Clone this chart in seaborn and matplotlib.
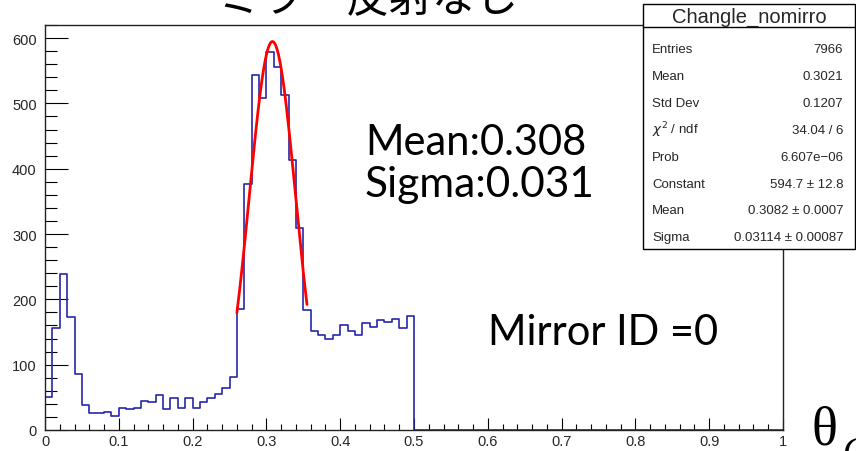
import numpy as np
import pandas as pd
import matplotlib
matplotlib.use("Agg")
import matplotlib.pyplot as plt
from matplotlib.patches import Rectangle
from matplotlib.lines import Line2D
import seaborn as sns

# ---- data (bin contents, 0.01-wide bins starting at 0) ----
bin_width = 0.01
counts = [51, 156, 239, 173, 85, 38, 26, 26, 28, 22,
          34, 32, 34, 45, 43, 53, 32, 49, 34, 49,
          34, 43, 49, 55, 64, 81, 186, 377, 543, 508,
          578, 556, 513, 414, 309, 184, 152, 146, 140, 146,
          160, 151, 146, 164, 158, 169, 165, 170, 156, 175]
hist_range = (0.0, 1.0)
n_bins = 100

# Gaussian fit parameters (from stats box)
fit_const = 594.7
fit_mean = 0.3082
fit_sigma = 0.03114
fit_range = (0.26, 0.355)

title = "ミラー反射なし"
stats_name = "Changle_nomirro"
stats_labels = ["Entries", "Mean", "Std Dev", r"$\chi^{2}$ / ndf", "Prob",
                "Constant", "Mean", "Sigma"]
stats_values = ["7966", "0.3021", "0.1207", "34.04 / 6", "6.607e\u221206",
                "594.7 \u00b1 12.8", "0.3082 \u00b1 0.0007", "0.03114 \u00b1 0.00087"]
y_ticks = [0, 100, 200, 300, 400, 500, 600]
x_ticks = [0, 0.1, 0.2, 0.3, 0.4, 0.5, 0.6, 0.7, 0.8, 0.9, 1]
x_ticklabels = ["0", "0.1", "0.2", "0.3", "0.4", "0.5", "0.6", "0.7", "0.8", "0.9", "1"]

# ---- figure ----
sns.set_style("ticks")
plt.rcParams["font.family"] = ["Liberation Sans", "DejaVu Sans"]

W, H = 856, 452
fig = plt.figure(figsize=(W / 100, H / 100), dpi=100)
fig.patch.set_facecolor("white")

def fx(px):
    return px / W

def fy(py):
    return 1 - py / H

ax = fig.add_axes([fx(45), fy(431), fx(783) - fx(45), fy(26) - fy(431)])

centers = [hist_range[0] + (i + 0.5) * bin_width for i in range(len(counts))]
df = pd.DataFrame({"x": centers, "w": counts})
sns.histplot(data=df, x="x", weights="w", bins=n_bins, binrange=hist_range,
             element="step", fill=False, color="#2626aa", linewidth=1.2, ax=ax)

xf = np.linspace(fit_range[0], fit_range[1], 200)
yf = fit_const * np.exp(-0.5 * ((xf - fit_mean) / fit_sigma) ** 2)
sns.lineplot(x=xf, y=yf, color="#ff0000", linewidth=2.0, ax=ax, sort=False)

ax.set_xlim(0, 1)
ax.set_ylim(0, 620)
ax.set_xlabel("")
ax.set_ylabel("")
ax.set_xticks(x_ticks)
ax.set_xticklabels(x_ticklabels)
ax.set_yticks(y_ticks)
ax.set_xticks(np.arange(0, 1.0001, 0.02), minor=True)
ax.set_yticks(np.arange(0, 621, 20), minor=True)
ax.tick_params(axis="x", which="major", direction="in", length=8.6, width=0.8,
               labelsize=10.5, pad=3, color="black")
ax.tick_params(axis="x", which="minor", direction="in", length=4.6, width=0.8, color="black")
ax.tick_params(axis="y", which="major", direction="in", length=16.5, width=0.8,
               labelsize=10.5, pad=6, color="black")
ax.tick_params(axis="y", which="minor", direction="in", length=8.6, width=0.8, color="black")
for s in ax.spines.values():
    s.set_visible(True)
    s.set_color("#222222")
    s.set_linewidth(1.0)

# ---- overlay texts ----
fig.text(fx(368), fy(12), title, ha="center", va="baseline", fontsize=31,
         family=["Noto Sans CJK JP", "DejaVu Sans"], color="black")
fig.text(fx(365), fy(155), "Mean:0.308", ha="left", va="baseline", fontsize=30,
         family=["Lato", "DejaVu Sans"], color="black")
fig.text(fx(365), fy(197), "Sigma:0.031", ha="left", va="baseline", fontsize=30.5,
         family=["Lato", "DejaVu Sans"], color="black")
fig.text(fx(488), fy(345), "Mirror ID =0", ha="left", va="baseline", fontsize=30,
         family=["Lato", "DejaVu Sans"], color="black")
fig.text(fx(812), fy(445), "\u03b8", ha="left", va="baseline", fontsize=39,
         family=["Liberation Serif", "DejaVu Serif"], color="black")
fig.text(fx(843), fy(462), "C", ha="left", va="baseline", fontsize=26,
         family=["Liberation Serif", "DejaVu Serif"], style="italic", color="black")

# ---- stats box ----
bx0, bx1, by0, by1, bsep = 643, 855, 5, 250, 28
fig.patches.append(Rectangle((fx(bx0), fy(by1)), fx(bx1) - fx(bx0), fy(by0) - fy(by1),
                             transform=fig.transFigure, facecolor="white",
                             edgecolor="black", linewidth=1.0, zorder=10))
fig.lines.append(Line2D([fx(bx0), fx(bx1)], [fy(bsep), fy(bsep)],
                        transform=fig.transFigure, color="black", linewidth=1.0, zorder=11))
fig.text(fx((bx0 + bx1) / 2), fy(22.5), stats_name, ha="center", va="baseline",
         fontsize=14.5, zorder=12)
row_y = [50 + i * 26.9 for i in range(len(stats_labels))]
for lab, val, ry in zip(stats_labels, stats_values, row_y):
    fig.text(fx(652), fy(ry), lab, ha="left", va="center", fontsize=9.5, zorder=12)
    fig.text(fx(843), fy(ry), val, ha="right", va="center", fontsize=9.5, zorder=12)

fig.savefig("out.png", dpi=100)
